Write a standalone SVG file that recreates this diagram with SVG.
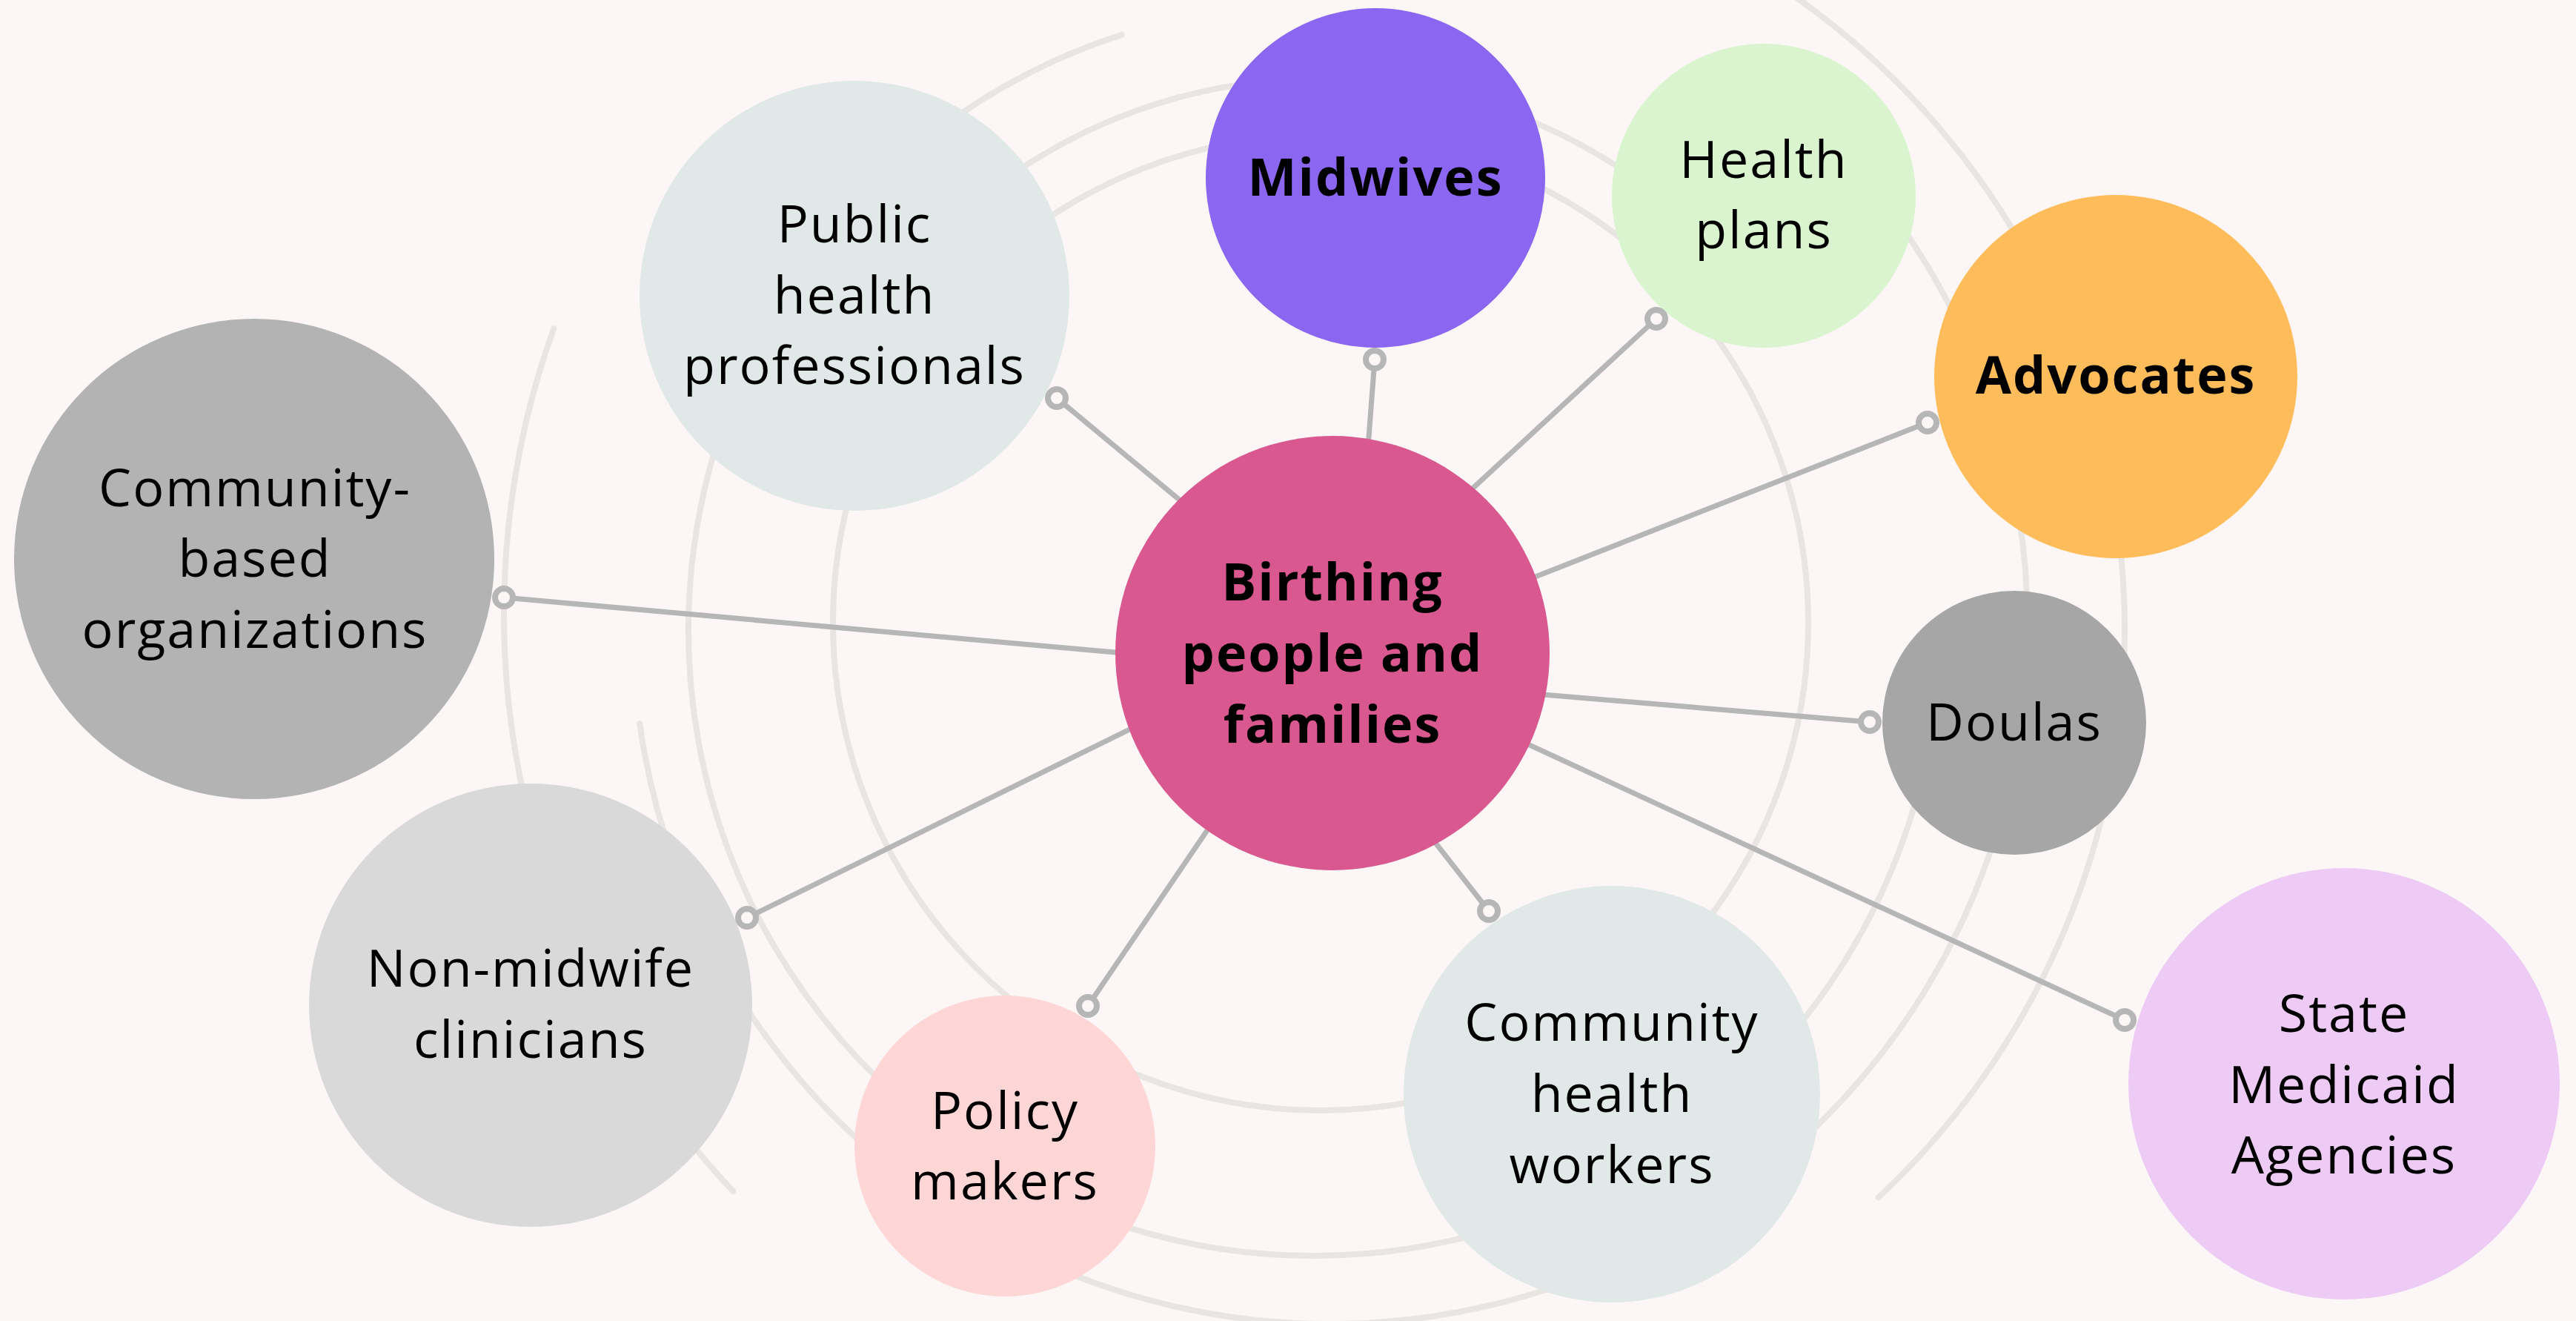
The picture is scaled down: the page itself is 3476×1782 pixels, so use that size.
<svg xmlns="http://www.w3.org/2000/svg" width="3476" height="1782" viewBox="0 0 3476 1782">
<style>
.arc{fill:none;stroke:#E9E5E3;stroke-width:8;stroke-linecap:round}
.ln{stroke:#B6B6B6;stroke-width:7;fill:none}
.ring{fill:#FCF7F6;stroke:#B6B6B6;stroke-width:8}
.t{font-family:"Open Sans","Noto Sans",sans-serif;font-size:70px;fill:#000;text-anchor:middle;letter-spacing:2px}
.b{font-weight:700}
</style>
<rect width="3476" height="1782" fill="#FCF7F6"/>
<g id="arcs">
<circle class="arc" cx="1782" cy="840" r="658"/>
<path class="arc" d="M1180.7 419 A734 734 0 0 1 2310 330.1"/>
<path class="arc" d="M1513.5 46.9 A844 844 0 1 0 2613.8 923.6"/>
<path class="arc" d="M863.2 976 A941 941 0 1 0 2471.9 191.3"/>
<path class="arc" d="M747.2 443.2 A1136 1136 0 0 0 989.3 1607.1"/>
<path class="arc" d="M2344.5 -54 A1045 1045 0 0 1 2534.7 1615.3"/>
</g>
<g id="connectors">
<line class="ln" x1="1605.4" y1="685.8" x2="1426" y2="537"/>
<line class="ln" x1="1845.5" y1="610" x2="1855" y2="485"/>
<line class="ln" x1="1973.3" y1="671.6" x2="2235" y2="430"/>
<line class="ln" x1="2053.4" y1="785.3" x2="2601" y2="570"/>
<line class="ln" x1="2067" y1="935.8" x2="2523" y2="974"/>
<line class="ln" x1="2045.8" y1="996.6" x2="2867" y2="1376"/>
<line class="ln" x1="1926.7" y1="1123.8" x2="2009" y2="1229"/>
<line class="ln" x1="1638.2" y1="1106.5" x2="1468" y2="1357"/>
<line class="ln" x1="1541" y1="975.7" x2="1008" y2="1238"/>
<line class="ln" x1="1524.4" y1="881.8" x2="680" y2="806"/>
</g>
<g id="node-birthing">
<circle cx="1798" cy="881" r="293" fill="#D95890"/>
<text class="t b" x="1798" y="810">Birthing</text>
<text class="t b" x="1798" y="906">people and</text>
<text class="t b" x="1798" y="1002">families</text>
</g>
<g id="node-public-health">
<circle cx="1153" cy="399" r="290" fill="#E0E9E8"/>
<text class="t" x="1153" y="327">Public</text>
<text class="t" x="1153" y="423">health</text>
<text class="t" x="1153" y="518">professionals</text>
</g>
<g id="node-midwives">
<circle cx="1856" cy="240" r="229" fill="#8B66F1"/>
<text class="t b" x="1856" y="264">Midwives</text>
</g>
<g id="node-health-plans">
<circle cx="2380" cy="264" r="205" fill="#D9F4CF"/>
<text class="t" x="2380" y="240">Health</text>
<text class="t" x="2380" y="335">plans</text>
</g>
<g id="node-advocates">
<circle cx="2855" cy="508" r="245" fill="#FEBD5A"/>
<text class="t b" x="2855" y="531">Advocates</text>
</g>
<g id="node-doulas">
<circle cx="2718" cy="975" r="178" fill="#A6A6A6"/>
<text class="t" x="2718" y="999">Doulas</text>
</g>
<g id="node-medicaid">
<circle cx="3163" cy="1462" r="291" fill="#EDCBF5"/>
<text class="t" x="3163" y="1392">State</text>
<text class="t" x="3163" y="1488">Medicaid</text>
<text class="t" x="3163" y="1583">Agencies</text>
</g>
<g id="node-chw">
<circle cx="2175" cy="1476" r="281" fill="#E0E9E8"/>
<text class="t" x="2175" y="1404">Community</text>
<text class="t" x="2175" y="1500">health</text>
<text class="t" x="2175" y="1596">workers</text>
</g>
<g id="node-policy">
<circle cx="1356" cy="1546" r="203" fill="#FED6D6"/>
<text class="t" x="1356" y="1523">Policy</text>
<text class="t" x="1356" y="1618">makers</text>
</g>
<g id="node-non-midwife">
<circle cx="716" cy="1356" r="299" fill="#D9D9D9"/>
<text class="t" x="716" y="1331">Non-midwife</text>
<text class="t" x="716" y="1427">clinicians</text>
</g>
<g id="node-cbo">
<circle cx="343" cy="754" r="324" fill="#B3B3B3"/>
<text class="t" x="344" y="683">Community-</text>
<text class="t" x="344" y="778">based</text>
<text class="t" x="344" y="874">organizations</text>
</g>
<g id="connector-ends">
<circle class="ring" cx="1426" cy="537" r="12"/>
<circle class="ring" cx="1855" cy="485" r="12"/>
<circle class="ring" cx="2235" cy="430" r="12"/>
<circle class="ring" cx="2601" cy="570" r="12"/>
<circle class="ring" cx="2523" cy="974" r="12"/>
<circle class="ring" cx="2867" cy="1376" r="12"/>
<circle class="ring" cx="2009" cy="1229" r="12"/>
<circle class="ring" cx="1468" cy="1357" r="12"/>
<circle class="ring" cx="1008" cy="1238" r="12"/>
<circle class="ring" cx="680" cy="806" r="12"/>
</g>
</svg>
